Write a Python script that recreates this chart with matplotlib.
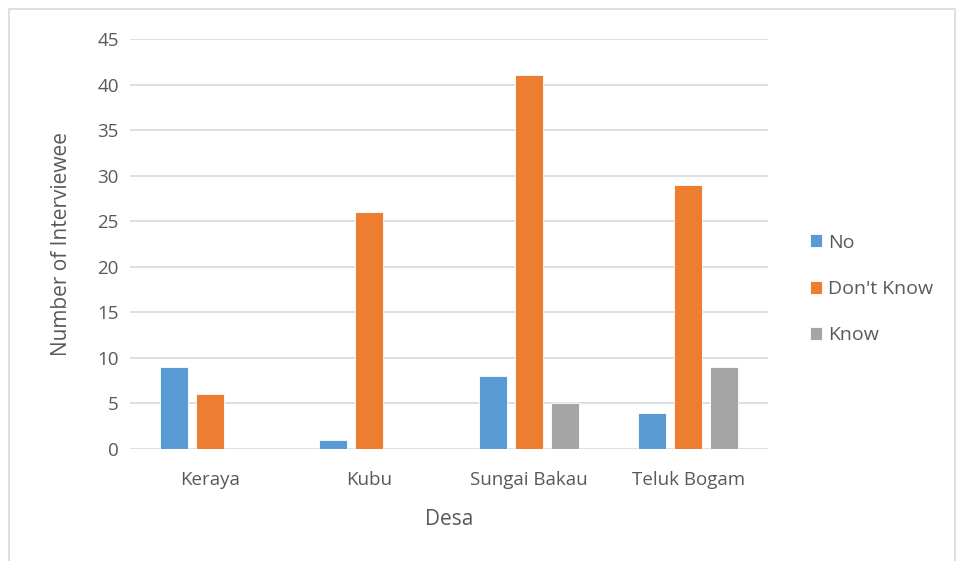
import numpy as np
import matplotlib.pyplot as plt
from matplotlib.patches import Rectangle

# data
villages = ["Keraya", "Kubu", "Sungai Bakau", "Teluk Bogam"]
no_vals = [9, 1, 8, 4]
dont_know_vals = [6, 26, 41, 29]
know_vals = [0, 0, 5, 9]
series_names = ["No", "Don't Know", "Know"]
colors = ["#5B9BD5", "#ED7D31", "#A5A5A5"]
y_ticks = list(range(0, 50, 5))

plt.rcParams['font.family'] = ['Open Sans', 'DejaVu Sans']
txt = "#595959"

fig = plt.figure(figsize=(9.56, 5.61), dpi=100)
ax = fig.add_axes([130 / 956, 1 - 449 / 561, 638 / 956, 410 / 561])

x = np.arange(len(villages))
w = 0.175
step = 0.225
for i, (vals, name, c) in enumerate(zip([no_vals, dont_know_vals, know_vals], series_names, colors)):
    ax.bar(x + (i - 1) * step, vals, w, color=c, label=name, edgecolor="white", linewidth=0.6, zorder=3)

ax.set_xlim(-0.5, len(villages) - 0.5)
ax.set_ylim(0, 45)
ax.set_yticks(y_ticks)
ax.set_xticks(x)
ax.set_xticklabels(villages)
ax.grid(axis="y", color="#D9D9D9", linewidth=1.2, zorder=0)
for s in ax.spines.values():
    s.set_visible(False)
ax.tick_params(length=0, labelsize=13.5, colors=txt, pad=8)
ax.tick_params(axis="x", pad=16)
ax.set_xlabel("Desa", fontsize=15, color=txt, labelpad=14)
ax.set_ylabel("Number of Interviewee", fontsize=15, color=txt, labelpad=18)

leg = fig.legend(loc="center left", bbox_to_anchor=(792 / 956, 1 - 289 / 561), frameon=False,
                 fontsize=14, handlelength=0.65, handleheight=0.65, handletextpad=0.3, labelspacing=1.45,
                 labelcolor=txt)

fig.patches.append(Rectangle((9 / 956, -0.05), 946 / 956, 1 - 9 / 561 + 0.05, transform=fig.transFigure,
                             fill=False, edgecolor="#D9D9D9", linewidth=1.2))

fig.savefig("out.png", dpi=100)
